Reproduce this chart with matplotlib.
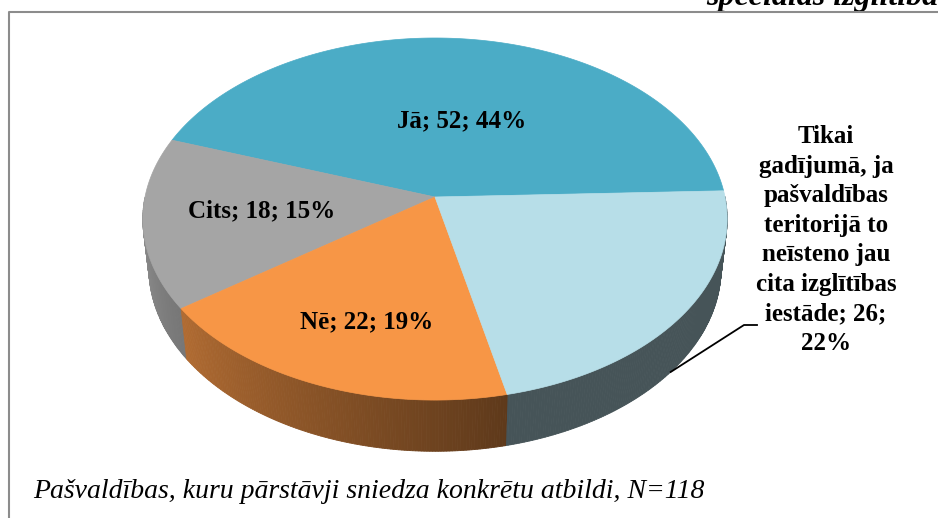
import numpy as np
import matplotlib
matplotlib.use("Agg")
import matplotlib.pyplot as plt
from matplotlib.patches import Polygon
from matplotlib.colors import to_rgb

# data
names = ["Jā", "Cits", "Nē",
         "Tikai gadījumā, ja pašvaldības teritorijā to neīsteno jau cita izglītības iestāde"]
values = [52, 18, 22, 26]
colors = ["#4BACC6", "#A5A5A5", "#F79646", "#B7DEE8"]
label_text = ["Jā; 52; 44%", "Cits; 18; 15%", "Nē; 22; 19%",
              "Tikai\ngadījumā, ja\npašvaldības\nteritorijā to\nneīsteno jau\ncita izglītības\niestāde; 26;\n22%"]
note = "Pašvaldības, kuru pārstāvji sniedza konkrētu atbildi, N=118"
title = "speciālās izglītības"

# layout (pixels)
W, H = 938, 518
cx, cy, k = 435, 197, 290
phi = np.arcsin(0.615)
D = 6.48
depth = 0.22
start = 2.0
label_xy = [(462, 121), (262, 211), (367, 322), (826, 240)]

def project(theta, Y):
    t = np.radians(theta)
    X = np.cos(t)
    Z = -np.sin(t)
    yc = Y * np.cos(phi) - Z * np.sin(phi)
    zc = Y * np.sin(phi) + Z * np.cos(phi)
    s = D / (D - zc)
    return cx + k * X * s, cy - k * yc * s

def shade(theta):
    return 0.38 + 0.5 * np.clip((283 - theta) / 100.0, 0, 1)

fig = plt.figure(figsize=(W / 100, H / 100), dpi=100)
ax = fig.add_axes([0, 0, 1, 1])
ax.set_xlim(0, W)
ax.set_ylim(H, 0)
ax.axis("off")

total = sum(values)
bounds = start + 360 * np.concatenate([[0], np.cumsum(values)]) / total

# side walls (front half only), painted back to front
strips = []
for i in range(len(values)):
    a0, a1 = bounds[i], bounds[i + 1]
    base = np.array(to_rgb(colors[i]))
    for lo in np.arange(a0, a1, 0.5):
        hi = min(lo + 0.5, a1)
        mid = (lo + hi) / 2
        m = mid % 360
        if m < 180:
            continue
        x1, y1 = project(lo, 0)
        x2, y2 = project(hi, 0)
        x3, y3 = project(hi, -depth)
        x4, y4 = project(lo, -depth)
        c = np.clip(base * shade(m), 0, 1)
        strips.append((-np.sin(np.radians(m)), [(x1, y1), (x2, y2), (x3, y3), (x4, y4)], c))
strips.sort(key=lambda s: s[0])
for _, pts, c in strips:
    ax.add_patch(Polygon(pts, closed=True, facecolor=c, edgecolor=c, linewidth=0.6, zorder=1))

# top faces
for i in range(len(values)):
    th = np.linspace(bounds[i], bounds[i + 1], 200)
    xs, ys = project(th, 0)
    pts = [(cx, cy)] + list(zip(xs, ys))
    ax.add_patch(Polygon(pts, closed=True, facecolor=colors[i], edgecolor=colors[i],
                         linewidth=0.5, zorder=2))

# labels
font = "Liberation Serif"
for i, txt in enumerate(label_text):
    x, y = label_xy[i]
    ax.text(x, y, txt, ha="center", va="center", fontsize=18, fontweight="bold",
            family=font, zorder=5, linespacing=1.36)

# leader line for the outside label
lx, ly = project(320, -depth)
ax.plot([lx, 744, 757], [ly, 325, 325], color="black", linewidth=1.3, zorder=4)

# bottom note and clipped title (cut off at the top edge as in the source)
ax.text(33, 492, note, ha="left", va="center", fontsize=20, fontstyle="italic",
        family=font, zorder=5)
ax.text(706, 5, title, ha="left", va="baseline", fontsize=23, fontstyle="italic",
        fontweight="bold", family=font, zorder=5)

# frame
ax.plot([8.5, 8.5, W], [H, 12, 12], color="#8C8C8C", linewidth=1.5, zorder=6)

fig.savefig("out.png", dpi=100)
